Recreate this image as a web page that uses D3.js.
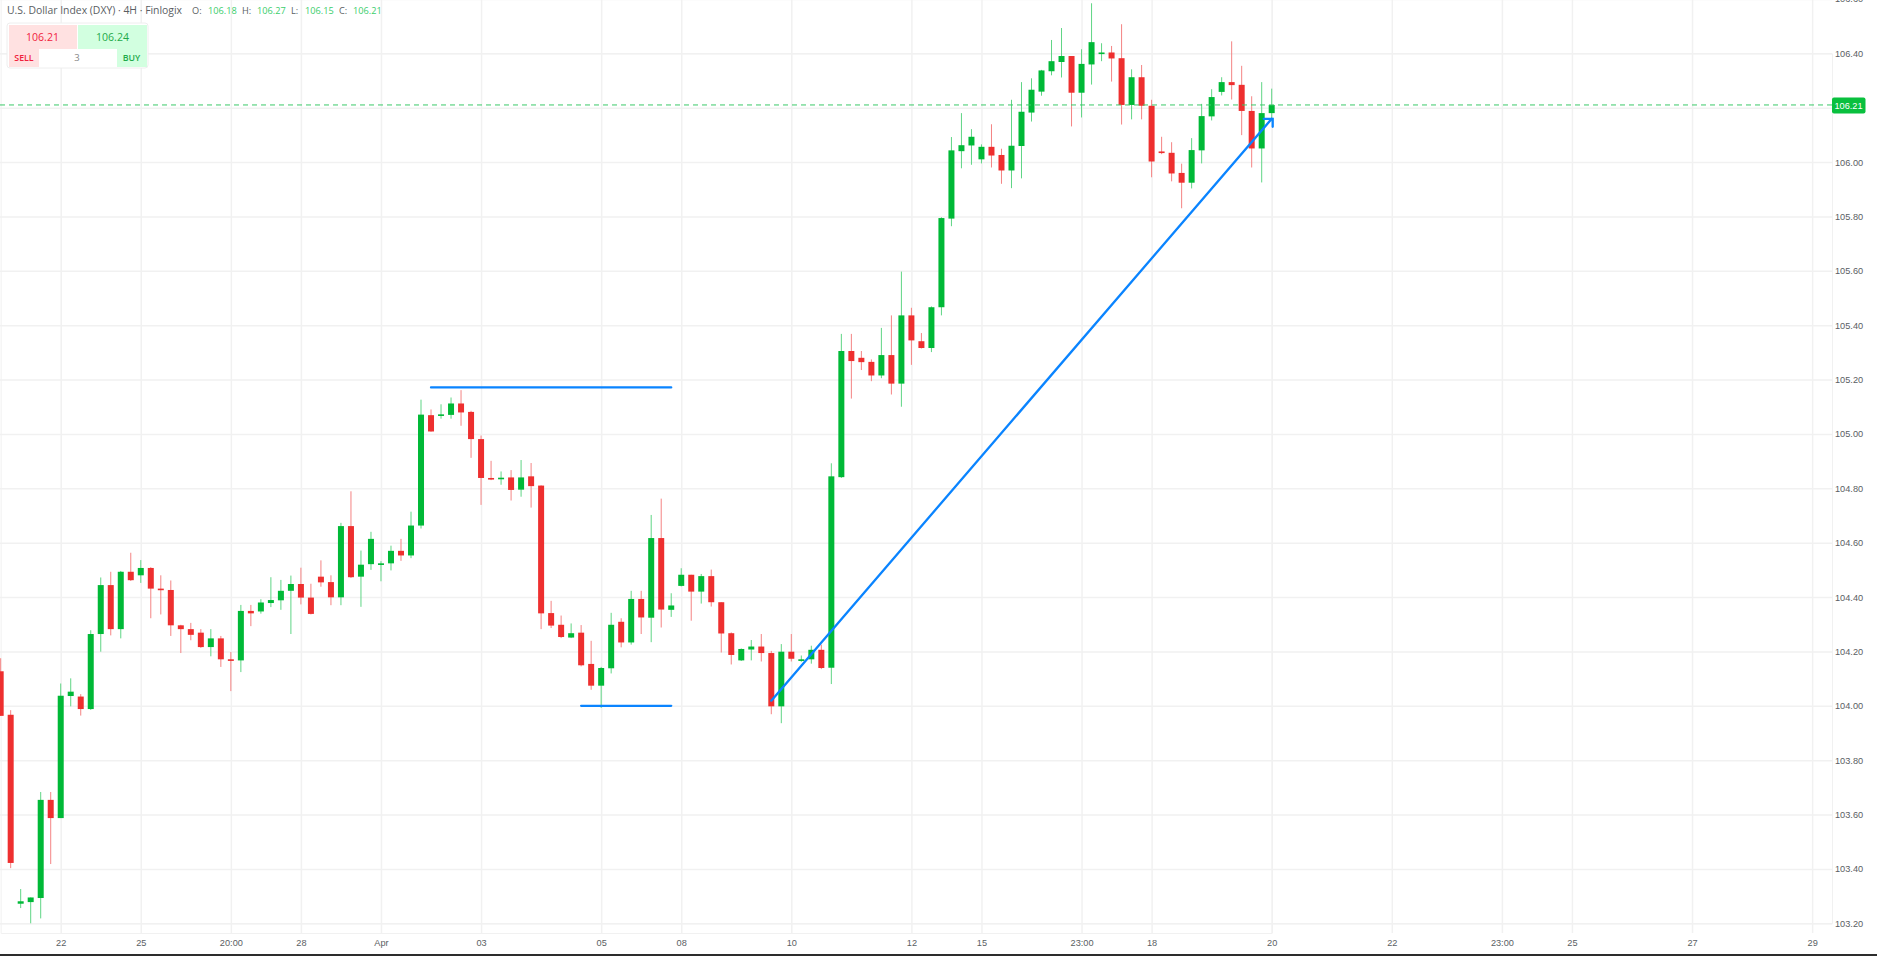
<!DOCTYPE html>
<html><head><meta charset="utf-8">
<script src="https://cdn.jsdelivr.net/npm/d3@7/dist/d3.min.js"></script>
<style>
html,body{margin:0;padding:0;background:#fff;overflow:hidden}
svg{display:block}
text{font-family:"Open Sans",sans-serif}
</style></head><body>
<svg id="c" width="1877" height="956"></svg>
<script>
const opens=[104.127,103.967,103.272,103.278,103.293,103.654,103.587,104.036,104.034,103.988,104.264,104.444,104.282,104.493,104.480,104.507,104.431,104.426,104.296,104.282,104.269,104.216,104.248,104.171,104.167,104.349,104.347,104.378,104.388,104.423,104.448,104.398,104.475,104.455,104.399,104.661,104.475,104.521,104.518,104.524,104.570,104.553,104.663,105.069,105.067,105.070,105.112,105.081,104.981,104.838,104.834,104.840,104.795,104.844,104.810,104.341,104.298,104.251,104.269,104.154,104.074,104.138,104.309,104.233,104.393,104.324,104.617,104.353,104.441,104.482,104.420,104.477,104.381,104.267,104.167,104.207,104.218,104.194,103.998,104.199,104.165,104.171,104.206,104.140,104.841,105.305,105.280,105.265,105.215,105.290,105.185,105.436,105.341,105.316,105.466,105.792,106.040,106.061,106.010,106.056,106.026,105.969,106.059,106.182,106.259,106.334,106.368,106.390,106.255,106.359,106.400,106.403,106.382,106.210,106.312,106.207,106.039,106.034,105.960,105.924,106.043,106.168,106.258,106.294,106.284,106.188,106.050,106.18];
const highs=[104.175,103.984,103.326,103.295,103.683,103.683,104.082,104.101,104.043,104.278,104.472,104.493,104.496,104.563,104.536,104.510,104.480,104.461,104.298,104.305,104.282,104.282,104.257,104.198,104.371,104.371,104.392,104.473,104.463,104.479,104.508,104.449,104.535,104.480,104.673,104.789,104.571,104.640,104.532,104.589,104.614,104.714,105.126,105.090,105.109,105.134,105.161,105.085,104.994,104.901,104.862,104.867,104.904,104.893,104.811,104.386,104.332,104.303,104.297,104.239,104.143,104.342,104.322,104.423,104.423,104.702,104.762,104.414,104.506,104.482,104.485,104.501,104.381,104.270,104.211,104.242,104.264,104.202,104.227,104.264,104.185,104.221,104.225,104.892,105.368,105.368,105.305,105.274,105.390,105.436,105.597,105.464,105.371,105.469,105.797,106.092,106.180,106.121,106.065,106.139,106.049,106.229,106.294,106.308,106.339,106.449,106.493,106.390,106.415,106.584,106.437,106.427,106.507,106.341,106.357,106.229,106.093,106.073,105.994,106.088,106.214,106.268,106.312,106.444,106.354,106.242,106.294,106.27];
const lows=[103.963,103.403,103.256,103.200,103.218,103.418,103.587,103.998,103.964,103.985,104.199,104.259,104.248,104.459,104.452,104.322,104.336,104.257,104.194,104.241,104.213,104.182,104.143,104.054,104.124,104.293,104.339,104.363,104.353,104.264,104.373,104.336,104.438,104.370,104.370,104.470,104.364,104.500,104.458,104.498,104.533,104.543,104.652,105.008,105.056,105.056,105.030,104.912,104.739,104.830,104.813,104.755,104.769,104.729,104.282,104.286,104.249,104.249,104.145,104.059,103.992,104.119,104.215,104.225,104.264,104.234,104.288,104.327,104.439,104.313,104.376,104.365,104.196,104.152,104.165,104.167,104.163,103.969,103.936,104.163,104.162,104.155,104.135,104.080,104.838,105.130,105.235,105.194,105.205,105.145,105.100,105.254,105.314,105.301,105.436,105.764,105.977,105.990,105.995,105.980,105.920,105.904,105.940,106.149,106.244,106.319,106.311,106.131,106.164,106.285,106.371,106.296,106.138,106.157,106.157,105.944,106.029,105.929,105.830,105.903,105.995,106.153,106.245,106.230,106.099,105.980,105.925,106.15];
const closes=[103.963,103.422,103.281,103.295,103.654,103.587,104.037,104.052,103.988,104.264,104.444,104.282,104.493,104.462,104.507,104.431,104.426,104.296,104.282,104.261,104.216,104.248,104.171,104.167,104.349,104.340,104.380,104.389,104.423,104.448,104.398,104.338,104.454,104.399,104.661,104.473,104.519,104.614,104.524,104.570,104.553,104.663,105.071,105.009,105.072,105.112,105.079,104.981,104.838,104.833,104.839,104.794,104.840,104.808,104.340,104.295,104.253,104.267,104.149,104.074,104.139,104.298,104.233,104.393,104.325,104.617,104.354,104.369,104.482,104.420,104.477,104.381,104.266,104.187,104.209,104.218,104.194,103.998,104.199,104.173,104.171,104.206,104.139,104.844,105.305,105.268,105.264,105.215,105.290,105.185,105.436,105.344,105.316,105.466,105.794,106.043,106.062,106.093,106.056,106.024,105.969,106.060,106.185,106.266,106.337,106.371,106.390,106.255,106.361,106.441,106.403,106.381,106.210,106.312,106.207,106.002,106.033,105.958,105.924,106.044,106.169,106.239,106.294,106.283,106.188,106.050,106.180,106.21];
const priceTicks=[106.6,106.4,106.2,106.0,105.8,105.6,105.4,105.2,105.0,104.8,104.6,104.4,104.2,104.0,103.8,103.6,103.4,103.2];
const timeTickIndex=[6,14,23,30,38,48,60,68,79,91,98,108,115,127,139,150,157,169,181];
const timeTickLabels=["22","25","20:00","28","Apr","03","05","08","10","12","15","23:00","18","20","22","23:00","25","27","29"];
const lastPrice=106.21, askPrice=106.24;
const hLineA=[43,67,105.171], hLineB=[58,67,104.0];
const arrowFrom=[77,104.019], arrowTo=[127,106.159];

const UP="#00b937",DOWN="#ee2f2f",UPW="#5fd585",DOWNW="#f48383",BLUE="#0a84ff",GRID="#f1f1f1",TXT="#5a5e63",LIVE="#39c868";
const W=1832,B=933;
const x=d3.scaleLinear().domain([0,127]).range([0.67,1271.7]);
const y=d3.scaleLinear().domain([103.2,106.4]).range([923.3,53.3]);
const svg=d3.select("#c");

// grid and axes
const gx=svg.append("g").attr("transform",`translate(0,${B})`)
 .call(d3.axisBottom(x).tickValues(timeTickIndex).tickFormat((d,i)=>timeTickLabels[i]).tickSize(-B).tickPadding(5));
const gy=svg.append("g").attr("transform",`translate(${W},0)`)
 .call(d3.axisRight(y).tickValues(priceTicks).tickFormat(d3.format(".2f")).tickSize(-W).tickPadding(3));
[gx,gy].forEach(g=>{g.select(".domain").attr("stroke",GRID);
 g.selectAll("line").attr("stroke",GRID).attr("stroke-width",1.5);
 g.selectAll("text").attr("fill",TXT).style("font-size","9.2px").style("font-family","'Liberation Sans',sans-serif");});
gx.selectAll("text").attr("dy","0.85em");

// candles
const idx=d3.range(opens.length);
const cg=svg.append("g");
cg.selectAll("line").data(idx).join("line")
 .attr("x1",i=>x(i)).attr("x2",i=>x(i)).attr("y1",i=>y(highs[i])).attr("y2",i=>y(lows[i]))
 .attr("stroke",i=>closes[i]>=opens[i]?UPW:DOWNW).attr("stroke-width",1);
cg.selectAll("rect").data(idx).join("rect")
 .attr("x",i=>x(i)-3).attr("width",6)
 .attr("y",i=>y(Math.max(opens[i],closes[i])))
 .attr("height",i=>Math.max(1.6,Math.abs(y(opens[i])-y(closes[i]))))
 .attr("fill",i=>closes[i]>=opens[i]?UP:DOWN);

// last price line and tag
svg.append("line").attr("x1",0).attr("x2",W).attr("y1",y(lastPrice)).attr("y2",y(lastPrice))
 .attr("stroke",LIVE).attr("stroke-width",1).attr("stroke-dasharray","5 4");
svg.append("rect").attr("x",W).attr("y",y(lastPrice)-7.5).attr("width",33.5).attr("height",16).attr("rx",2).attr("fill","#09c03e");
svg.append("text").attr("x",W+16.5).attr("y",y(lastPrice)+0.5).attr("dy","0.35em").attr("text-anchor","middle")
 .attr("fill","#fff").style("font-size","9.2px").style("font-family","'Liberation Sans',sans-serif").text(d3.format(".2f")(lastPrice));

// drawings
const draw=svg.append("g").attr("stroke",BLUE).attr("stroke-width",2.3).attr("fill","none").attr("stroke-linecap","round");
[hLineA,hLineB].forEach(l=>draw.append("line").attr("x1",x(l[0])).attr("x2",x(l[1])).attr("y1",y(l[2])).attr("y2",y(l[2])));
draw.append("line").attr("x1",x(arrowFrom[0])).attr("y1",y(arrowFrom[1])).attr("x2",x(arrowTo[0])).attr("y2",y(arrowTo[1]));
const tx=x(arrowTo[0]),ty=y(arrowTo[1]);
draw.append("path").attr("d",d3.line()([[tx-8,ty],[tx+1,ty],[tx+1,ty+8]]));

// header
svg.append("text").attr("x",7).attr("y",14).style("font-size","10.4px").attr("fill",TXT).text("U.S. Dollar Index (DXY) · 4H · Finlogix");
const ohlcLabels=["O:","H:","L:","C:"],ohlcValues=["106.18","106.27","106.15","106.21"];
const labelX=[192,242,291,339],valueX=[208,257,305,353];
ohlcLabels.forEach((t,i)=>{
 svg.append("text").attr("x",labelX[i]).attr("y",14).style("font-size","9.2px").attr("fill",TXT).text(t);
 svg.append("text").attr("x",valueX[i]).attr("y",14).style("font-size","9.2px").attr("fill","#3bce6c").text(ohlcValues[i]);
});

// trade widget
const w=svg.append("g");
w.append("rect").attr("x",7).attr("y",23).attr("width",141).attr("height",45).attr("rx",3).attr("fill","#fff").attr("stroke","#eeeeee");
w.append("rect").attr("x",9).attr("y",25).attr("width",68).attr("height",24).attr("fill","#ffe1e1");
w.append("rect").attr("x",78).attr("y",25).attr("width",69).attr("height",24).attr("fill","#d2ffe0");
w.append("rect").attr("x",9).attr("y",49).attr("width",30).attr("height",18).attr("fill","#ffe1e1");
w.append("rect").attr("x",117).attr("y",49).attr("width",30).attr("height",18).attr("fill","#d2ffe0");
const wt=(xp,yp,t,c,fs,fw)=>w.append("text").attr("x",xp).attr("y",yp).attr("dy","0.35em").attr("text-anchor","middle").attr("fill",c).style("font-size",fs+"px").style("font-weight",fw).text(t);
wt(42.5,37,d3.format(".2f")(lastPrice),"#f0213d",10.5,400);
wt(112.5,37,d3.format(".2f")(askPrice),"#1faa4a",10.5,400);
wt(24,58,"SELL","#f0213d",8.8,600);
wt(77,58,"3","#888",9.5,400);
wt(131.5,58,"BUY","#1faa4a",8.8,600);

// window edge
svg.append("rect").attr("x",0).attr("y",954).attr("width",1877).attr("height",2).attr("fill","#2d2d2d");
</script>
</body></html>
